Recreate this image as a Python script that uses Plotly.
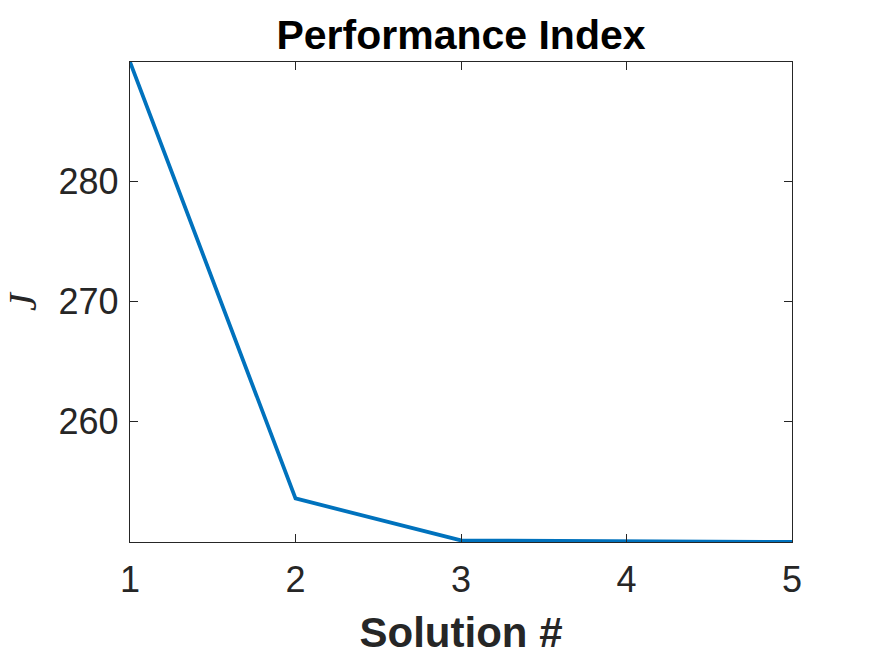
import plotly.graph_objects as go

solution = [1, 2, 3, 4, 5]
J_values = [289.92, 253.55, 250.05, 249.95, 249.92]
x_ticks = [1, 2, 3, 4, 5]
y_ticks = [260, 270, 280]

fig = go.Figure()
fig.add_trace(go.Scatter(x=solution, y=J_values, mode="lines",
                         line=dict(color="#0072BD", width=3.8)))

axis_common = dict(showline=True, linecolor="#262626", linewidth=1.3, mirror="ticks",
                   ticks="inside", ticklen=8, tickwidth=1.2, tickcolor="#262626",
                   showgrid=False, zeroline=False, automargin=False,
                   tickfont=dict(family="Liberation Sans", size=36, color="#262626"))

fig.update_layout(
    width=875, height=657,
    margin=dict(l=130, r=83, t=62, b=115),
    plot_bgcolor="white", paper_bgcolor="white",
    showlegend=False,
    title=dict(text="<b>Performance Index</b>", x=0.5, xanchor="center", xref="paper",
               y=1 - 35 / 657, yanchor="middle", yref="container",
               font=dict(family="Liberation Sans", size=41, color="black")),
    xaxis=dict(range=[1, 5], tickvals=x_ticks, ticklabelstandoff=6,
               title=dict(text="<b>Solution #</b>", standoff=18,
                          font=dict(family="Liberation Sans", size=42, color="#262626")),
               **axis_common),
    yaxis=dict(range=[249.92, 289.92], tickvals=y_ticks, ticklabelstandoff=3,
               title=dict(text="<i>J</i>", standoff=18,
                          font=dict(family="Liberation Serif", size=40, color="#262626")),
               **axis_common),
)

fig.write_html("out.html")
